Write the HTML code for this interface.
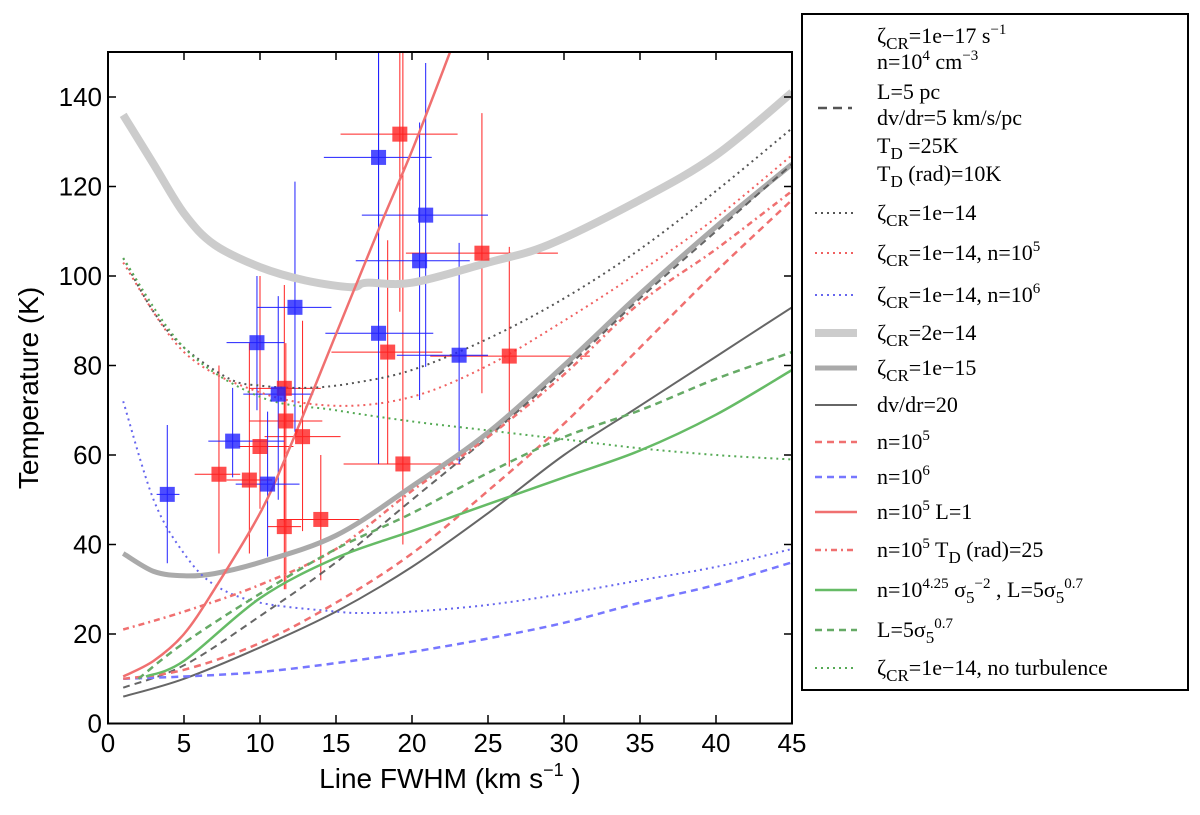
<!DOCTYPE html>
<html><head><meta charset="utf-8"><style>
body{margin:0;background:#fff;}
svg text{font-family:"Liberation Sans",sans-serif;}
.lg{font-family:"Liberation Serif",serif;font-size:22px;}
</style></head><body>
<svg id="chart" width="1200" height="810" xmlns="http://www.w3.org/2000/svg">
<rect width="1200" height="810" fill="#fff"/>
<g id="errbars"></g>
<g id="curves"></g>
<g id="points"></g>
<rect x="108" y="52" width="684" height="671.5" fill="none" stroke="#000" stroke-width="2"/>
<g id="axes"></g>
<text x="450" y="788" font-size="28" text-anchor="middle">Line FWHM (km s<tspan dy="-12" font-size="18">−1</tspan><tspan dy="12"> )</tspan></text>
<text transform="translate(38,388) rotate(-90)" font-size="28" text-anchor="middle">Temperature (K)</text>
<g>
<rect x="802" y="14" width="386" height="676" fill="#fff" stroke="#000" stroke-width="2"/>
<g id="legendItems"></g>
</g>
</svg>
<script>
const xTicks=[0,5,10,15,20,25,30,35,40,45];
const yTicks=[0,20,40,60,80,100,120,140];
const redX=[19.2,24.6,18.4,26.4,19.4,11.6,11.7,12.8,10.0,7.3,9.3,11.6,14.0];
const redY=[131.7,105.1,83.0,82.1,58.0,74.9,67.6,64.1,61.9,55.7,54.4,44.0,45.6];
const redXlo=[15.3,19.6,14.7,21.2,15.5,9.3,9.3,10.3,8.6,5.7,7.8,10.5,11.3];
const redXhi=[23.0,29.6,22.0,31.7,23.2,14.0,14.1,15.3,12.2,8.7,10.8,12.7,16.8];
const redYlo=[92,73.8,58,57.4,40,45,30,43,48,38,38,30,32];
const redYhi=[155,136.4,108,106.5,155,98,85,90,100,80,85,75,60];
const blueX=[17.8,20.9,20.5,12.3,17.8,9.8,23.1,11.2,8.2,10.5,3.9];
const blueY=[126.5,113.6,103.4,93.0,87.2,85.1,82.3,73.6,63.1,53.5,51.2];
const blueXlo=[14.2,16.7,16.3,9.8,14.3,7.8,19.0,8.9,6.6,8.4,3.2];
const blueXhi=[21.3,25.0,23.8,14.7,21.4,11.6,25.0,13.5,11.6,12.6,4.7];
const blueYlo=[90,79.7,72.3,65.2,58,70,58,50,55,37.3,35.8];
const blueYhi=[155,147.6,134.3,121.1,150,100,107.4,95.5,75,69.7,66.7];
const cX=[1,5,10,15,20,25,30,35,40,45];
const gray2e14X=[1,3,5,7,10,13,16,17,20,25,29,35,40,45];
const gray2e14Y=[136,125,114,107,102,99,97.5,98.5,98.5,103,107,117,127,141];
const gray1e15X=[1,3,5,7,10,15,20,25,30,35,40,45];
const gray1e15Y=[38,34,33,33.5,36,42,53,65,80,96,111,125];
const dvdr20Y=[6,10,17,25,35,47,60,71,82,93];
const baseY=[8,13,24,36,50,64,79,95,110,125];
const cr14X=[1,3,5,8,10,13,16,20,25,30,35,40,45];
const cr14Y=[104,92,84,77,75.5,75,76,79,86,95,106,119,133];
const cr14n5Y=[103,83,74,71,73,80,90,101,113,127];
const noTurbY=[104,84,73,70,67.5,65.5,63.5,61.5,60,59];
const cr14n6X=[1,3,5,7,10,15,17,20,25,30,35,40,45];
const cr14n6Y=[72,50,38,31,27,25,24.7,25,26.5,29,32,35,39];
const n6Y=[10,10.5,11.5,13.5,16,19,22.5,27,31,36];
const n5Y=[10,12,18,27,38,52,67,84,101,117];
const L1X=[1,3,5,7,10,12,15,18,20,22.5];
const L1Y=[10.5,14,20,30,47,62,87,112,128,150];
const tdY=[21,25,31,39,52,64,78,94,106,119];
const gsolX=[2.5,5,10,15,20,25,30,35,40,45];
const gsolY=[10.5,14,28,37,43,49,55,61,69,79];
const gdashX=[2,5,10,15,20,25,30,35,40,45];
const gdashY=[10,18,29,39,47,56,64,70,77,83];

const NS='http://www.w3.org/2000/svg';
function sx(v){return 108+v*684/45;}
function sy(v){return 723.5-v*4.475;}
function mk(tag,attrs,parent){const e=document.createElementNS(NS,tag);for(const k in attrs)e.setAttribute(k,attrs[k]);parent.appendChild(e);return e;}
const axes=document.getElementById('axes');
xTicks.forEach(t=>{
 const l=mk('line',{x1:sx(t),x2:sx(t),y1:723.5,y2:715,stroke:'#000','stroke-width':1.5},axes);
 
 const l2=mk('line',{x1:sx(t),x2:sx(t),y1:52,y2:60,stroke:'#000','stroke-width':1.5},axes);
 
 const tx=mk('text',{x:sx(t),y:752,'font-size':26,'text-anchor':'middle'},axes);tx.textContent=t;
 
});
yTicks.forEach(t=>{
 const l=mk('line',{x1:108,x2:116,y1:sy(t),y2:sy(t),stroke:'#000','stroke-width':1.5},axes);
 
 const l2=mk('line',{x1:792,x2:784,y1:sy(t),y2:sy(t),stroke:'#000','stroke-width':1.5},axes);
 
 const tx=mk('text',{x:102,y:sy(t)+9,'font-size':26,'text-anchor':'end'},axes);tx.textContent=t;
 
});
const curves=document.getElementById('curves');
function smooth(P){
 let d='M'+P[0][0].toFixed(1)+','+P[0][1].toFixed(1);
 for(let i=0;i<P.length-1;i++){
  const p0=P[i-1]||P[i],p1=P[i],p2=P[i+1],p3=P[i+2]||P[i+1];
  const c1=[p1[0]+(p2[0]-p0[0])/6,p1[1]+(p2[1]-p0[1])/6];
  const c2=[p2[0]-(p3[0]-p1[0])/6,p2[1]-(p3[1]-p1[1])/6];
  d+=' C'+c1[0].toFixed(1)+','+c1[1].toFixed(1)+' '+c2[0].toFixed(1)+','+c2[1].toFixed(1)+' '+p2[0].toFixed(1)+','+p2[1].toFixed(1);
 }
 return d;
}
function curve(name,xs,ys,color,w,dash,op){
 const P=xs.map((x,i)=>[sx(x),sy(ys[i])]);
 const p=mk('path',{d:smooth(P),fill:'none',stroke:color,'stroke-width':w,'stroke-opacity':op||1,'stroke-dasharray':dash||'none'},curves);
 
}
const cp=document.createElementNS(NS,'clipPath');cp.id='clip';mk('rect',{x:108,y:52,width:684,height:671.5},cp);document.getElementById('chart').appendChild(cp);
curves.setAttribute('clip-path','url(#clip)');
document.getElementById('errbars').setAttribute('clip-path','url(#clip)');
curve('curve-zeta-2e-14',gray2e14X,gray2e14Y,'#cccccc',8);
curve('curve-zeta-1e-15',gray1e15X,gray1e15Y,'#aaaaaa',5);
curve('curve-dvdr-20',cX,dvdr20Y,'#666666',2);
curve('curve-base',cX,baseY,'#555555',2,'7,5',0.9);
curve('curve-zeta-1e-14',cr14X,cr14Y,'#555555',2,'2,4');
curve('curve-zeta-1e-14-n5',cX,cr14n5Y,'#f06060',2,'2,4');
curve('curve-no-turbulence',cX,noTurbY,'#55aa55',2,'2,4');
curve('curve-zeta-1e-14-n6',cr14n6X,cr14n6Y,'#6666ee',2,'2,4');
curve('curve-n6',cX,n6Y,'#7777ff',2.5,'7,5');
curve('curve-n5',cX,n5Y,'#f07070',2.5,'7,5');
curve('curve-n5-L1',L1X,L1Y,'#f07070',2.5);
curve('curve-n5-td25',cX,tdY,'#f07070',2.5,'6,4,2,4');
curve('curve-green-solid',gsolX,gsolY,'#66bb66',2.5);
curve('curve-green-dashed',gdashX,gdashY,'#66aa66',2.5,'7,5');
const eb=document.getElementById('errbars'),pts=document.getElementById('points');
function series(xs,ys,xl,xh,yl,yh,col,name){
 xs.forEach((x,i)=>{
  const h=mk('line',{x1:sx(xl[i]),x2:sx(xh[i]),y1:sy(ys[i]),y2:sy(ys[i]),stroke:col,'stroke-width':1},eb);
  
  const v=mk('line',{x1:sx(x),x2:sx(x),y1:sy(yl[i]),y2:sy(yh[i]),stroke:col,'stroke-width':1},eb);
  
  const r=mk('rect',{x:sx(x)-7.5,y:sy(ys[i])-7.5,width:15,height:15,fill:col,'fill-opacity':0.8},pts);
  
 });
}
series(redX,redY,redXlo,redXhi,redYlo,redYhi,'#ff2020','red');
series(blueX,blueY,blueXlo,blueXhi,blueYlo,blueYhi,'#2020ff','blue');

const lg=document.getElementById('legendItems');
const legendRows=[
 [213,'#555','2,4',2,'ζ<sub>CR</sub>=1e−14'],
 [253,'#f06060','2,4',2,'ζ<sub>CR</sub>=1e−14, n=10<sup>5</sup>'],
 [295,'#6666ee','2,4',2,'ζ<sub>CR</sub>=1e−14, n=10<sup>6</sup>'],
 [333,'#cccccc','',8,'ζ<sub>CR</sub>=2e−14'],
 [368,'#aaaaaa','',5,'ζ<sub>CR</sub>=1e−15'],
 [405,'#666','',2,'dv/dr=20'],
 [442,'#f07070','7,5',2.5,'n=10<sup>5</sup>'],
 [477,'#7777ff','7,5',2.5,'n=10<sup>6</sup>'],
 [512,'#f07070','',2.5,'n=10<sup>5</sup>  L=1'],
 [550,'#f07070','6,4,2,4',2.5,'n=10<sup>5</sup>  T<sub>D</sub> (rad)=25'],
 [590,'#66bb66','',2.5,'n=10<sup>4.25</sup> σ<sub>5</sub><sup>−2</sup> , L=5σ<sub>5</sub><sup>0.7</sup>'],
 [630,'#66aa66','7,5',2.5,'L=5σ<sub>5</sub><sup>0.7</sup>'],
 [668,'#55aa55','2,4',2,'ζ<sub>CR</sub>=1e−14, no turbulence']
];
function txt(y,html,name){
 const t=mk('text',{x:877,y:y+7,class:'lg'},lg);
 
 html.split(/(<sub>.*?<\/sub>|<sup>.*?<\/sup>)/).forEach(s=>{
  if(!s)return;
  const ts=document.createElementNS(NS,'tspan');
  if(s.startsWith('<sub>')){ts.textContent=s.slice(5,-6);ts.setAttribute('font-size','17');ts.setAttribute('dy','6');t.appendChild(ts);const b=document.createElementNS(NS,'tspan');b.setAttribute('dy','-6');b.textContent='\u200b';t.appendChild(b);}
  else if(s.startsWith('<sup>')){ts.textContent=s.slice(5,-6);ts.setAttribute('font-size','15');ts.setAttribute('dy','-9');t.appendChild(ts);const b=document.createElementNS(NS,'tspan');b.setAttribute('dy','9');b.textContent='\u200b';t.appendChild(b);}
  else{ts.textContent=s;t.appendChild(ts);}
 });
}
const head=[[36,'ζ<sub>CR</sub>=1e−17 s<sup>−1</sup>'],[62,' n=10<sup>4</sup>  cm<sup>−3</sup>'],[92,'L=5 pc'],[118,' dv/dr=5 km/s/pc'],[146,'T<sub>D</sub> =25K'],[174,' T<sub>D</sub> (rad)=10K']];
head.forEach(h=>txt(h[0],h[1],'legend-base-text'));
const bl=mk('line',{x1:818,x2:852,y1:108,y2:108,stroke:'#555','stroke-width':2.5,'stroke-dasharray':'9,6'},lg);

legendRows.forEach(r=>{
 const l=mk('line',{x1:815,x2:857,y1:r[0],y2:r[0],stroke:r[1],'stroke-width':r[3],'stroke-dasharray':r[2]||'none'},lg);
 
 txt(r[0],r[4],'legend-entry');
});
</script>
</body></html>
